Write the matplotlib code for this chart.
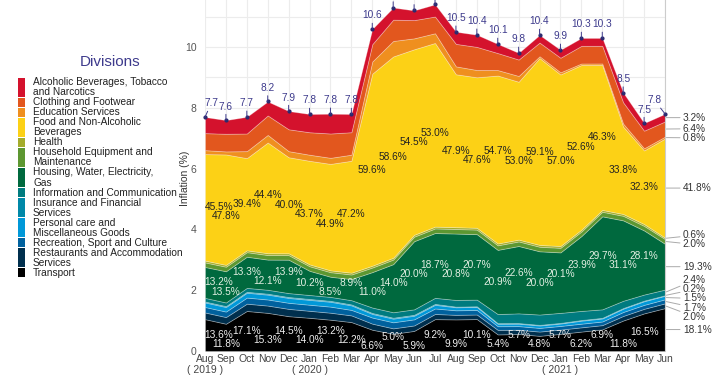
import numpy as np
import matplotlib.pyplot as plt
from matplotlib.patches import Rectangle

plt.rcParams['font.family'] = ['Liberation Sans', 'DejaVu Sans']

months = ['Aug', 'Sep', 'Oct', 'Nov', 'Dec', 'Jan', 'Feb', 'Mar', 'Apr', 'May', 'Jun', 'Jul',
          'Aug', 'Sep', 'Oct', 'Nov', 'Dec', 'Jan', 'Feb', 'Mar', 'Apr', 'May', 'Jun']
years = {0: '( 2019 )', 5: '( 2020 )', 17: '( 2021 )'}

# headline inflation (%)
total = [7.7, 7.6, 7.7, 8.2, 7.9, 7.8, 7.8, 7.8, 10.6, 11.3, 11.2, 11.4,
         10.5, 10.4, 10.1, 9.8, 10.4, 9.9, 10.3, 10.3, 8.5, 7.5, 7.8]

# share of inflation (%) for the three labelled divisions
food_share = [45.5, 47.8, 39.4, 44.4, 40.0, 43.7, 44.9, 47.2, 59.6, 58.6, 54.5, 53.0,
              47.9, 47.6, 54.7, 53.0, 59.1, 57.0, 52.6, 46.3, 33.8, 32.3, 41.8]
housing_share = [13.2, 13.5, 13.3, 12.1, 13.9, 10.2, 8.5, 8.9, 11.0, 14.0, 20.0, 18.7,
                 20.8, 20.7, 20.9, 22.6, 20.0, 20.1, 23.9, 29.7, 31.1, 28.1, 19.3]
transport_share = [13.6, 11.8, 17.1, 15.3, 14.5, 14.0, 13.2, 12.2, 6.6, 5.0, 5.9, 9.2,
                   9.9, 10.1, 5.4, 5.7, 4.8, 5.7, 6.2, 6.9, 11.8, 16.5, 18.1]

# contributions (percentage points) of the other divisions
alcohol = [.53, .45, .55, .46, .60, .60, .65, .60, .50, .40, .32, .40,
           .40, .40, .30, .22, .25, .26, .26, .26, .32, .25, .25]
clothing = [.56, .58, .58, .64, .72, .74, .80, .74, .57, .70, .60, .55,
            .74, .76, .56, .54, .45, .48, .58, .58, .70, .58, .50]
education = [.13, .10, .23, .25, .20, .20, .20, .20, .40, .51, .36, .32,
             .26, .24, .18, .19, .06, .07, .05, .05, .10, .07, .062]
health = [.06] * 22 + [.047]
household = [.15] * 22 + [.156]
information = [.12, .12, .13, .13, .13, .13, .13, .14, .18, .18, .18, .20,
               .22, .22, .30, .32, .34, .33, .30, .28, .24, .20, .187]
insurance = [.03] * 12 + [.02] * 10 + [.016]
personal = [.15, .15, .16, .16, .16, .16, .16, .15, .12, .12, .12, .12,
            .10, .10, .08, .08, .08, .08, .10, .10, .11, .12, .117]
recreation = [.18, .18, .20, .20, .20, .20, .20, .18, .20, .20, .20, .18,
              .15, .15, .12, .12, .12, .12, .12, .12, .13, .13, .133]
restaurants = [.22, .22, .24, .24, .24, .23, .23, .22, .20, .18, .18, .17,
               .15, .15, .15, .14, .14, .14, .14, .14, .15, .15, .156]

tot = np.array(total)
food = tot * np.array(food_share) / 100
housing = tot * np.array(housing_share) / 100
transport = tot * np.array(transport_share) / 100

# bottom to top
names = ['Transport', 'Restaurants and Accommodation\nServices', 'Recreation, Sport and Culture',
         'Personal care and\nMiscellaneous Goods', 'Insurance and Financial\nServices',
         'Information and Communication', 'Housing, Water, Electricity,\nGas',
         'Household Equipment and\nMaintenance', 'Health', 'Food and Non-Alcoholic\nBeverages',
         'Education Services', 'Clothing and Footwear', 'Alcoholic Beverages, Tobacco\nand Narcotics']
layers = [transport, restaurants, recreation, personal, insurance, information, housing,
          household, health, food, education, clothing, alcohol]
colors = ['#000000', '#002f4d', '#00619e', '#0098d8', '#0088a8', '#007b7f', '#00693e',
          '#5d9731', '#a4ac2b', '#fcd116', '#ef8f1f', '#e2571e', '#d4122d']

layers = np.array([np.asarray(l, dtype=float) for l in layers])
cum = np.cumsum(layers, axis=0)
x = np.arange(len(months))
n = len(x)

W, H = 723, 375
fig = plt.figure(figsize=(W / 100, H / 100), dpi=100)
ppu = 30.4
x0, x1, y0 = 205, 665, 351
ymax = 12
ax = fig.add_axes([x0 / W, 1 - y0 / H, (x1 - x0) / W, ymax * ppu / H])

ax.stackplot(x, *layers, colors=colors, edgecolor=(1, 1, 1, 0.3), linewidth=0.6, zorder=2)
ax.set_xlim(0, n - 1)
ax.set_ylim(0, ymax)

ax.set_yticks(range(0, 12, 2))
ax.set_yticks(range(0, 12), minor=True)
ax.set_xticks(x)
ax.set_xticklabels(months, fontsize=7.5, color='#444444')
ax.tick_params(axis='both', length=0, which='both')
ax.tick_params(axis='x', pad=2)
ax.tick_params(axis='y', labelsize=7.5, labelcolor='#555555', pad=6)
ax.grid(True, which='both', color='#ececec', lw=0.8, zorder=0)
ax.set_axisbelow(True)
for s in ['left', 'top', 'bottom']:
    ax.spines[s].set_visible(False)
ax.spines['right'].set_color('#cccccc')
ax.spines['right'].set_linewidth(0.8)

for i, yr in years.items():
    ax.annotate(yr, xy=(i, 0), xycoords=('data', 'axes fraction'), xytext=(0, -13.7),
                textcoords='offset points', ha='center', va='center', fontsize=7.5,
                color='#444444', annotation_clip=False)

fig.text(185 / W, 1 - 178 / H, 'Inflation (%)', rotation=90, ha='center', va='center',
         fontsize=7.5, color='#333333')

# totals on top
top = cum[-1]
ax.plot(x, top, 'o', ms=2, color='#2b2a6e', zorder=5, clip_on=False)
for i in range(n):
    dx = 0.3 if i == 0 else (-0.5 if i == n - 1 else 0)
    ax.annotate(f'{total[i]:.1f}', xy=(i, top[i]), xytext=(i + dx, top[i] + 0.28),
                ha='center', va='bottom', fontsize=7.3, color='#3d3a8c',
                arrowprops=dict(arrowstyle='-', color='#3d3a8c', lw=0.7, shrinkA=0, shrinkB=0),
                annotation_clip=False, zorder=6)


# share labels inside the big layers
def inner_labels(k, share, color):
    lo = cum[k - 1] if k > 0 else np.zeros(n)
    centre = (lo + cum[k]) / 2
    h = 0.3
    prev = None
    for i in range(n - 1):
        y = centre[i]
        if prev is not None and abs(y - prev) < h:
            y = prev + h if y >= prev else prev - h
        y = max(y, 0.17)
        xi, ha = (i - 0.02, 'left') if i == 0 else (i, 'center')
        ax.text(xi, y, f'{share[i]:.1f}%', ha=ha, va='center', fontsize=7.3,
                color=color, zorder=4)
        prev = y


inner_labels(0, transport_share, '#eeeeee')
inner_labels(6, housing_share, '#e2efe2')
inner_labels(9, food_share, '#222222')

# right-hand share labels, spread so they do not overlap
last = layers[:, -1]
centres = cum[:, -1] - last / 2
gap = 0.3
clusters = [[i] for i in np.argsort(centres)]
changed = True
while changed:
    changed = False
    for k in range(len(clusters) - 1):
        a, b = clusters[k], clusters[k + 1]
        ta = centres[a].mean() + (len(a) - 1) * gap / 2
        bb = centres[b].mean() - (len(b) - 1) * gap / 2
        if bb - ta < gap:
            clusters[k] = a + b
            del clusters[k + 1]
            changed = True
            break
pos = np.zeros(len(centres))
for c in clusters:
    m = centres[c].mean()
    for j, idx in enumerate(c):
        pos[idx] = m + (j - (len(c) - 1) / 2) * gap
for k in range(len(last)):
    ax.annotate(f'{last[k] / total[-1] * 100:.1f}%', xy=(n - 1, centres[k]),
                xytext=(n - 1 + 0.85, pos[k]), ha='left', va='center', fontsize=7.3,
                color='#333333', annotation_clip=False,
                arrowprops=dict(arrowstyle='-', color='#aaaaaa', lw=0.7, shrinkA=0, shrinkB=1))

# legend
fig.text(110 / W, 1 - 62 / H, 'Divisions', ha='center', va='center', fontsize=11,
         color='#3d3a8c')
yc = 82
for k in range(len(names) - 1, -1, -1):
    lines = names[k].split('\n')
    fig.add_artist(Rectangle((18 / W, 1 - (yc + (len(lines) - 1) * 10 + 4.5) / H),
                             7 / W, (len(lines) * 10 - 1) / H, transform=fig.transFigure,
                             color=colors[k], lw=0))
    for ln in lines:
        fig.text(33 / W, 1 - yc / H, ln, ha='left', va='center', fontsize=7.3, color='#222222')
        yc += 10.05

fig.savefig('out.png', dpi=100)
